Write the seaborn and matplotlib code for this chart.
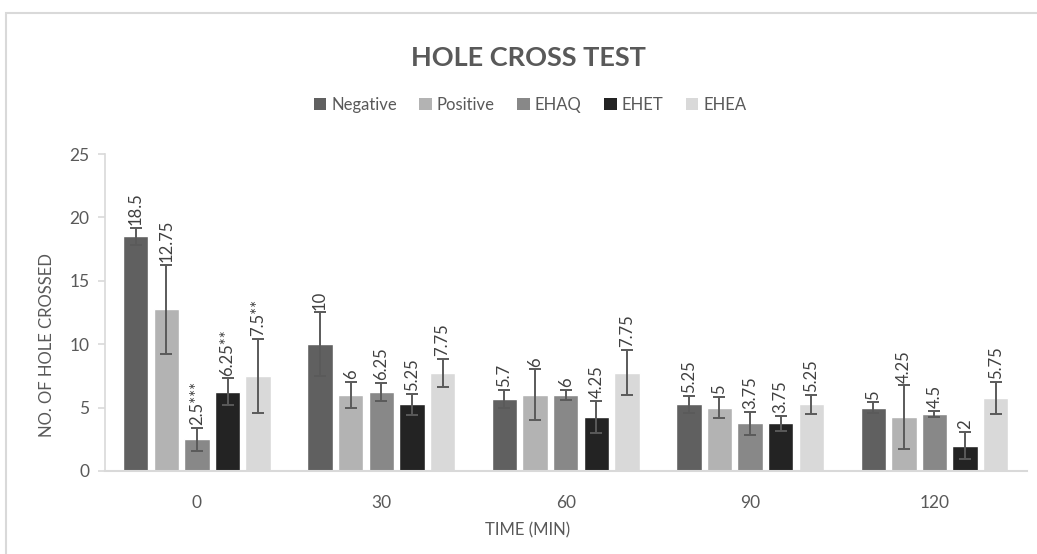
import numpy as np
import pandas as pd
import matplotlib
matplotlib.use("Agg")
import matplotlib.pyplot as plt
import matplotlib.patches as mpatches
import seaborn as sns

times = ["0", "30", "60", "90", "120"]
groups = ["Negative", "Positive", "EHAQ", "EHET", "EHEA"]
negative = [18.5, 10, 5.7, 5.25, 5]
positive = [12.75, 6, 6, 5, 4.25]
ehaq = [2.5, 6.25, 6, 3.75, 4.5]
ehet = [6.25, 5.25, 4.25, 3.75, 2]
ehea = [7.5, 7.75, 7.75, 5.25, 5.75]
err_negative = [0.65, 2.5, 0.7, 0.65, 0.4]
err_positive = [3.5, 1.05, 2.0, 0.85, 2.5]
err_ehaq = [0.9, 0.7, 0.4, 0.9, 0.25]
err_ehet = [1.05, 0.85, 1.25, 0.6, 1.1]
err_ehea = [2.9, 1.1, 1.8, 0.75, 1.3]
labels_negative = ["18.5", "10", "5.7", "5.25", "5"]
labels_positive = ["12.75", "6", "6", "5", "4.25"]
labels_ehaq = ["2.5***", "6.25", "6", "3.75", "4.5"]
labels_ehet = ["6.25**", "5.25", "4.25", "3.75", "2"]
labels_ehea = ["7.5**", "7.75", "7.75", "5.25", "5.75"]

colors = ["#606060", "#b3b3b3", "#888888", "#232323", "#d9d9d9"]

values = [negative, positive, ehaq, ehet, ehea]
errs = [err_negative, err_positive, err_ehaq, err_ehet, err_ehea]
labs = [labels_negative, labels_positive, labels_ehaq, labels_ehet, labels_ehea]

rows = []
for g, vals in zip(groups, values):
    for t, v in zip(times, vals):
        rows.append({"Time": t, "Group": g, "Value": v})
df = pd.DataFrame(rows)

sns.set_style("white")
plt.rcParams["font.family"] = ["Lato", "DejaVu Sans"]

fig = plt.figure(figsize=(10.37, 5.54), dpi=100)
ax = fig.add_axes([0.101, 0.150, 0.889, 0.572])

sns.barplot(data=df, x="Time", y="Value", hue="Group", order=times,
            hue_order=groups, palette=colors, errorbar=None, width=0.83,
            gap=0.17, saturation=1, ax=ax, legend=False)

text_col = "#595959"
for cont, er, lb in zip(ax.containers, errs, labs):
    xs = [p.get_x() + p.get_width() / 2 for p in cont.patches]
    hs = [p.get_height() for p in cont.patches]
    ax.errorbar(xs, hs, yerr=er, fmt="none", ecolor="#5a5a5a", elinewidth=1.4,
                capsize=4.3, capthick=1.4, zorder=3)
    for x, h, e, s in zip(xs, hs, er, lb):
        ax.annotate(s, (x, h + e), xytext=(0, 2), textcoords="offset points",
                    rotation=90, ha="center", va="bottom", fontsize=12,
                    color="#404040")

ax.set_ylim(0, 25)
ax.set_yticks([0, 5, 10, 15, 20, 25])
ax.set_xlim(-0.5, 4.5)
for s in ["top", "right"]:
    ax.spines[s].set_visible(False)
ax.spines["left"].set_color("#d9d9d9")
ax.spines["bottom"].set_color("#d9d9d9")
ax.spines["left"].set_linewidth(1.2)
ax.spines["bottom"].set_linewidth(1.5)
ax.tick_params(axis="y", left=True, length=5, width=1.2, color="#d9d9d9",
               labelsize=12.5, labelcolor=text_col, pad=6)
ax.tick_params(axis="x", bottom=False, labelsize=12.5, labelcolor=text_col, pad=14)
ax.set_xlabel("")
ax.set_ylabel("")

fig.text(0.509, 1 - 530 / 554, "TIME (MIN)", ha="center", va="center",
         fontsize=12, color=text_col)
fig.text(47 / 1037, 1 - 345 / 554, "NO. OF HOLE CROSSED", ha="center",
         va="center", rotation=90, fontsize=12, color=text_col)
fig.text(528 / 1037, 1 - 58 / 554, "HOLE CROSS TEST", ha="center",
         va="center", fontsize=19.5, fontweight="bold", color=text_col)

handles = [mpatches.Patch(facecolor=c, edgecolor="none", label=g)
           for g, c in zip(groups, colors)]
leg = fig.legend(handles=handles, loc="center", ncol=5,
                 bbox_to_anchor=(530 / 1037, 1 - 105 / 554), frameon=False,
                 fontsize=12, handlelength=0.75, handleheight=0.75,
                 handletextpad=0.3, columnspacing=1.35)
for t in leg.get_texts():
    t.set_color(text_col)

border = mpatches.Rectangle((6 / 1037, -0.1), 1.2, 1.1 - 13 / 554,
                            transform=fig.transFigure, fill=False,
                            edgecolor="#d9d9d9", linewidth=1.5)
fig.patches.append(border)

fig.savefig("out.png", dpi=100)
